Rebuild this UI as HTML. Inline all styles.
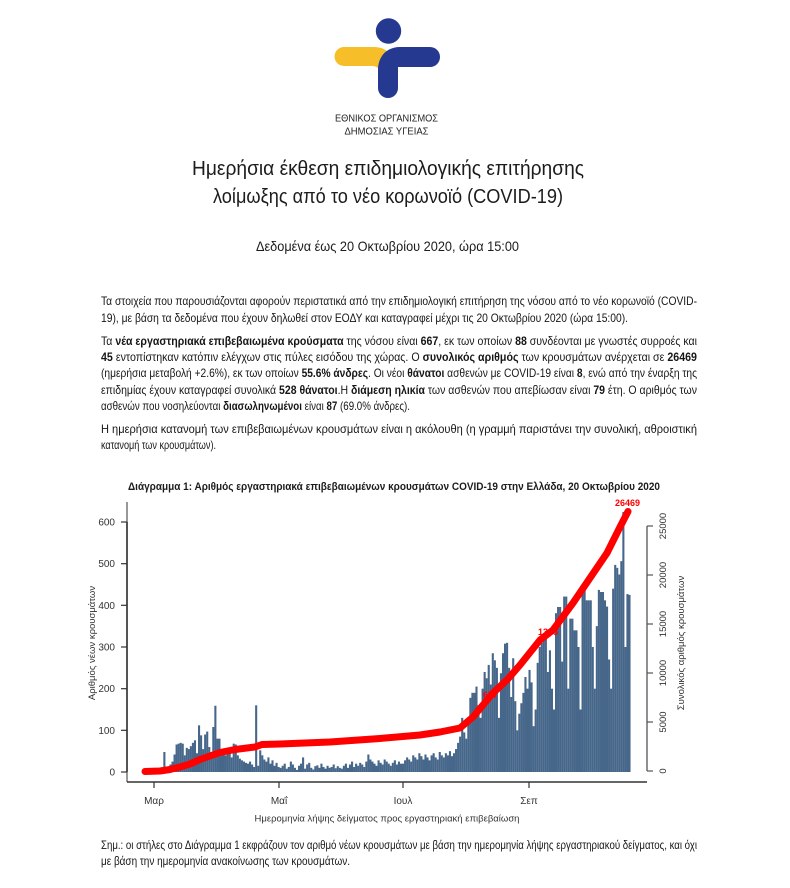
<!DOCTYPE html>
<html><head><meta charset="utf-8">
<style>
html,body{margin:0;padding:0;background:#fff;}
svg{display:block;}
text{font-family:"Liberation Sans","DejaVu Sans",sans-serif;}
.b{font-size:12px;fill:#161616;}
.bd{font-weight:bold;}
.tk{font-size:10px;fill:#333;}
</style></head>
<body>
<svg id="s" width="790" height="888" viewBox="0 0 790 888" xmlns="http://www.w3.org/2000/svg">
<rect width="790" height="888" fill="#fff"/>
<!-- logo -->
<circle cx="388.5" cy="31" r="12.7" fill="#24398f"/>
<path d="M344 47 L374 47 C389 47 396 58 396 76 L381 76 C381 70 378 66 372 66 L344 66 A9.5 9.5 0 0 1 344 47 Z" fill="#f6bf2a"/>
<path d="M400 47 L430 47 A10 10 0 0 1 430 67 L398 67 L398 88 A10 10 0 0 1 378 88 L378 70 C378 56 387 47 400 47 Z" fill="#24398f"/>
<text x="386.5" y="121.5" text-anchor="middle" font-size="10" fill="#222" textLength="103" lengthAdjust="spacingAndGlyphs">ΕΘΝΙΚΟΣ ΟΡΓΑΝΙΣΜΟΣ</text>
<text x="386.5" y="134.5" text-anchor="middle" font-size="10" fill="#222" textLength="84" lengthAdjust="spacingAndGlyphs">ΔΗΜΟΣΙΑΣ ΥΓΕΙΑΣ</text>
<!-- title -->
<text x="192" y="175" font-size="20" fill="#1c1c1c" textLength="392" lengthAdjust="spacingAndGlyphs">Ημερήσια έκθεση επιδημιολογικής επιτήρησης</text>
<text x="213" y="203" font-size="20" fill="#1c1c1c" textLength="350" lengthAdjust="spacingAndGlyphs">λοίμωξης από το νέο κορωνοϊό (COVID-19)</text>
<text x="256" y="251" font-size="14" fill="#1c1c1c" textLength="263" lengthAdjust="spacingAndGlyphs">Δεδομένα έως 20 Οκτωβρίου 2020, ώρα 15:00</text>
<!-- paragraph 1 -->
<text class="b" x="101" y="305" textLength="596" lengthAdjust="spacingAndGlyphs">Τα στοιχεία που παρουσιάζονται αφορούν περιστατικά από την επιδημιολογική επιτήρηση της νόσου από το νέο κορωνοϊό (COVID-</text>
<text class="b" x="101" y="322" textLength="527" lengthAdjust="spacingAndGlyphs">19), με βάση τα δεδομένα που έχουν δηλωθεί στον ΕΟΔΥ και καταγραφεί μέχρι τις 20 Οκτωβρίου 2020 (ώρα 15:00).</text>
<!-- paragraph 2 -->
<text class="b" x="101" y="345" textLength="596" lengthAdjust="spacingAndGlyphs">Τα <tspan class="bd">νέα εργαστηριακά επιβεβαιωμένα κρούσματα</tspan> της νόσου είναι <tspan class="bd">667</tspan>, εκ των οποίων <tspan class="bd">88</tspan> συνδέονται με γνωστές συρροές και</text>
<text class="b" x="101" y="361" textLength="596" lengthAdjust="spacingAndGlyphs"><tspan class="bd">45</tspan> εντοπίστηκαν κατόπιν ελέγχων στις πύλες εισόδου της χώρας.  Ο <tspan class="bd">συνολικός αριθμός</tspan> των κρουσμάτων ανέρχεται σε <tspan class="bd">26469</tspan></text>
<text class="b" x="101" y="377" textLength="596" lengthAdjust="spacingAndGlyphs">(ημερήσια μεταβολή +2.6%), εκ των οποίων <tspan class="bd">55.6% άνδρες</tspan>. Οι νέοι <tspan class="bd">θάνατοι</tspan> ασθενών με COVID-19 είναι <tspan class="bd">8</tspan>, ενώ από την έναρξη της</text>
<text class="b" x="101" y="394" textLength="596" lengthAdjust="spacingAndGlyphs">επιδημίας έχουν καταγραφεί συνολικά <tspan class="bd">528 θάνατοι</tspan>.Η <tspan class="bd">διάμεση ηλικία</tspan> των ασθενών που απεβίωσαν είναι <tspan class="bd">79</tspan> έτη.  Ο αριθμός των</text>
<text class="b" x="101" y="410" textLength="309" lengthAdjust="spacingAndGlyphs">ασθενών που νοσηλεύονται <tspan class="bd">διασωληνωμένοι</tspan> είναι <tspan class="bd">87</tspan> (69.0% άνδρες).</text>
<!-- paragraph 3 -->
<text class="b" x="101" y="433" textLength="596" lengthAdjust="spacingAndGlyphs">Η ημερήσια κατανομή των επιβεβαιωμένων κρουσμάτων είναι η ακόλουθη (η γραμμή παριστάνει την συνολική, αθροιστική</text>
<text class="b" x="101" y="449" textLength="115" lengthAdjust="spacingAndGlyphs">κατανομή των κρουσμάτων).</text>
<!-- chart title -->
<text x="128" y="490" font-size="11" font-weight="bold" fill="#1c1c1c" textLength="532" lengthAdjust="spacingAndGlyphs">Διάγραμμα 1: Αριθμός εργαστηριακά επιβεβαιωμένων κρουσμάτων COVID-19 στην Ελλάδα, 20 Οκτωβρίου 2020</text>
<!-- bars -->
<g id="bars" fill="#46678a"></g>
<!-- cumulative line -->
<polyline fill="none" stroke="#ff0000" stroke-width="7" stroke-linejoin="round" stroke-linecap="round"
points="145,771.5 160,771 170,769.5 180,767 190,764 200,759.5 210,756 220,752.5 235,749.5 255,747 262,744.5 280,744 330,742 380,738.5 420,735 440,732 460,728 473,717 483,705 493,693 507,680 520,665 540,640 553,630 573,603 590,578 607,553 620,527 628,511.5"/>
<text x="483" y="698" font-size="9" font-weight="bold" fill="#ff0000">657</text>
<text x="538" y="635" font-size="9" font-weight="bold" fill="#ff0000">1335</text>
<text x="615" y="506" font-size="9" font-weight="bold" fill="#ff0000">26469</text>
<!-- left axis -->
<line x1="127" y1="502" x2="127" y2="782" stroke="#777" stroke-width="1.5"/>
<line x1="127" y1="522" x2="127" y2="772" stroke="#333" stroke-width="1.5"/>
<g stroke="#333" stroke-width="1.2">
<line x1="121" y1="772" x2="127" y2="772"/>
<line x1="121" y1="730.3" x2="127" y2="730.3"/>
<line x1="121" y1="688.7" x2="127" y2="688.7"/>
<line x1="121" y1="647" x2="127" y2="647"/>
<line x1="121" y1="605.3" x2="127" y2="605.3"/>
<line x1="121" y1="563.7" x2="127" y2="563.7"/>
<line x1="121" y1="522" x2="127" y2="522"/>
</g>
<g class="tk" text-anchor="end">
<text x="115" y="775.5">0</text>
<text x="115" y="733.8">100</text>
<text x="115" y="692.2">200</text>
<text x="115" y="650.5">300</text>
<text x="115" y="608.8">400</text>
<text x="115" y="567.2">500</text>
<text x="115" y="525.5">600</text>
</g>
<text transform="translate(95,643) rotate(-90)" text-anchor="middle" font-size="9.5" fill="#333">Αριθμός νέων κρουσμάτων</text>
<!-- bottom axis -->
<line x1="127" y1="782" x2="647" y2="782" stroke="#333" stroke-width="1.5"/>
<g stroke="#333" stroke-width="1.2">
<line x1="154" y1="782" x2="154" y2="788"/>
<line x1="279" y1="782" x2="279" y2="788"/>
<line x1="403" y1="782" x2="403" y2="788"/>
<line x1="529" y1="782" x2="529" y2="788"/>
</g>
<g class="tk" text-anchor="middle">
<text x="154" y="804">Μαρ</text>
<text x="279" y="804">Μαΐ</text>
<text x="403" y="804">Ιουλ</text>
<text x="529" y="804">Σεπ</text>
</g>
<text x="387" y="821.5" text-anchor="middle" font-size="9.5" fill="#333">Ημερομηνία λήψης δείγματος προς εργαστηριακή επιβεβαίωση</text>
<!-- right axis -->
<line x1="647" y1="526" x2="647" y2="771" stroke="#555" stroke-width="1.3"/>
<g stroke="#555" stroke-width="1.2">
<line x1="647" y1="771" x2="653" y2="771"/>
<line x1="647" y1="722" x2="653" y2="722"/>
<line x1="647" y1="673" x2="653" y2="673"/>
<line x1="647" y1="624" x2="653" y2="624"/>
<line x1="647" y1="575" x2="653" y2="575"/>
<line x1="647" y1="526" x2="653" y2="526"/>
</g>
<g font-size="9.5" fill="#333" text-anchor="middle">
<text transform="translate(666,771) rotate(-90)">0</text>
<text transform="translate(666,722) rotate(-90)">5000</text>
<text transform="translate(666,673) rotate(-90)">10000</text>
<text transform="translate(666,624) rotate(-90)">15000</text>
<text transform="translate(666,575) rotate(-90)">20000</text>
<text transform="translate(666,526) rotate(-90)">25000</text>
</g>
<text transform="translate(684,643) rotate(-90)" text-anchor="middle" font-size="9.5" fill="#333">Συνολικός αριθμός κρουσμάτων</text>
<!-- note -->
<text class="b" x="101" y="849" textLength="596" lengthAdjust="spacingAndGlyphs">Σημ.: οι στήλες στο Διάγραμμα 1 εκφράζουν τον αριθμό νέων κρουσμάτων με βάση την ημερομηνία λήψης εργαστηριακού δείγματος, και όχι</text>
<text class="b" x="101" y="865" textLength="249" lengthAdjust="spacingAndGlyphs">με βάση την ημερομηνία ανακοίνωσης των κρουσμάτων.</text>
</svg>
<script>
(function(){
var v=[1,1,2,2,3,2,3,5,48,5,12,18,25,42,66,68,70,68,40,58,55,62,70,76,45,112,88,55,90,97,60,48,108,159,80,80,55,48,40,52,45,35,68,66,40,32,28,25,22,20,25,18,12,160,15,52,40,30,25,35,20,28,15,22,12,
10,15,20,8,12,25,18,10,5,15,20,35,8,18,22,10,6,14,16,10,20,12,8,15,10,12,18,9,14,10,8,
15,20,10,18,25,12,20,15,22,18,12,25,42,30,
25,20,15,28,22,18,30,25,20,15,22,28,18,25,20,
20,28,35,30,25,40,35,30,45,38,30,42,35,28,40,45,35,30,48,40,35,45,40,50,38,45,
55,70,85,
130,95,80,120,178,190,190,205,160,130,
200,240,225,257,210,285,268,250,130,237,
285,308,310,250,180,273,170,100,140,165,
190,228,200,245,215,110,150,262,300,310,
322,325,240,292,200,150,381,396,396,265,
421,421,200,368,368,340,340,300,150,437,
437,412,412,412,300,200,350,437,432,432,
412,397,270,200,440,497,490,474,506,624,
300,427,425];
var s='';
for(var i=0;i<v.length;i++){
var h=v[i]*0.4167;var x=147+2.04*i;
s+='<rect x="'+x.toFixed(2)+'" y="'+(772-h).toFixed(2)+'" width="2.1" height="'+h.toFixed(2)+'"/>';
}
document.getElementById('bars').innerHTML=s;
})();
</script>
</body></html>
